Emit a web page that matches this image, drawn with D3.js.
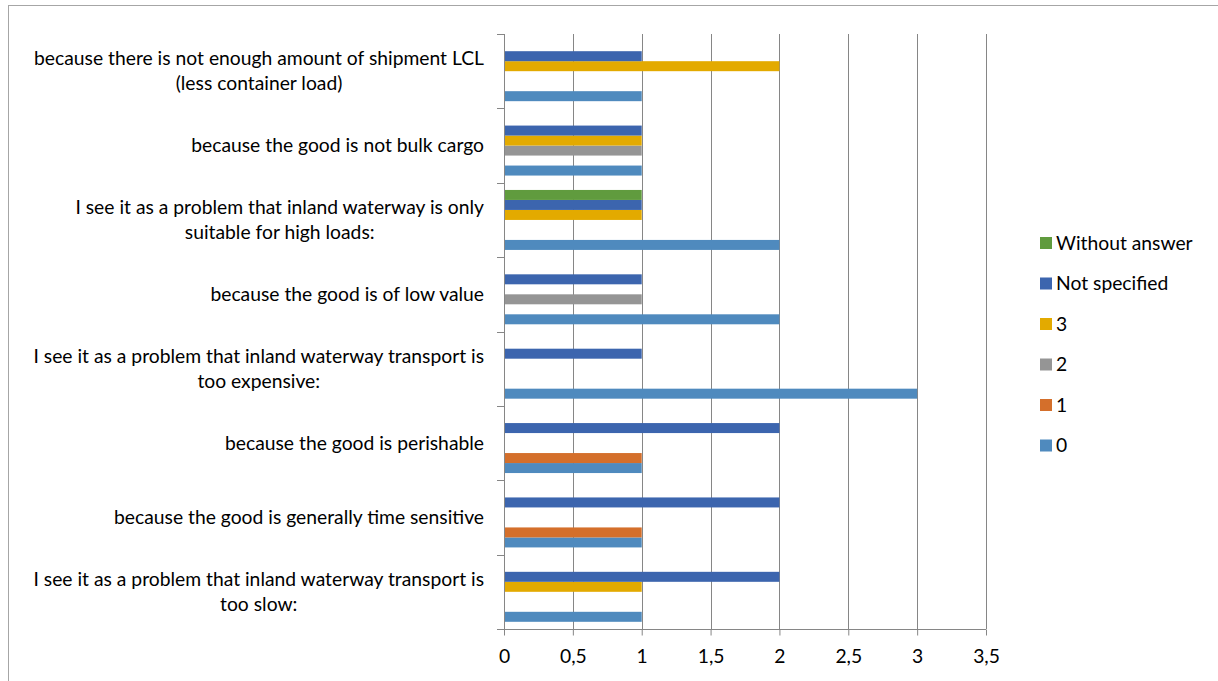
<!DOCTYPE html>
<html>
<head>
<meta charset="utf-8">
<script src="https://cdn.jsdelivr.net/npm/d3@7"></script>
<style>
  body { margin: 0; background: #fff; }
  text { font-family: Lato, "Open Sans", sans-serif; fill: #000; }
</style>
</head>
<body>
<div id="chart"></div>
<script>
"use strict";

// categories, top to bottom as shown
var categories = [
  ["because there is not enough amount of shipment LCL", "(less container load)"],
  ["because the good is not bulk cargo"],
  ["I see it as a problem that inland waterway is only", "suitable for high loads:"],
  ["because the good is of low value"],
  ["I see it as a problem that inland waterway transport is", "too expensive:"],
  ["because the good is perishable"],
  ["because the good is generally time sensitive"],
  ["I see it as a problem that inland waterway transport is", "too slow:"]
];

// series (bottom to top inside each group)
var seriesNames = ["0", "1", "2", "3", "Not specified", "Without answer"];
var seriesColors = ["#4f8abe", "#d46f2b", "#959595", "#e3aa00", "#3c65ae", "#609b3e"];

// values per series, in category order above
var s0 = [1, 1, 2, 2, 3, 1, 1, 1];
var s1 = [0, 0, 0, 0, 0, 1, 1, 0];
var s2 = [0, 1, 0, 1, 0, 0, 0, 0];
var s3 = [2, 1, 1, 0, 0, 0, 0, 1];
var sNS = [1, 1, 1, 1, 1, 2, 2, 2];
var sWA = [0, 0, 1, 0, 0, 0, 0, 0];
var seriesValues = [s0, s1, s2, s3, sNS, sWA];

var xTicks = [0, 0.5, 1, 1.5, 2, 2.5, 3, 3.5];
var xTickLabels = ["0", "0,5", "1", "1,5", "2", "2,5", "3", "3,5"];

var width = 1218, height = 681;
var plot = { left: 504, right: 986, top: 34, bottom: 629 };
var fontSize = "19.3px";

var svg = d3.select("#chart").append("svg")
  .attr("width", width).attr("height", height);

// outer chart border
svg.append("rect")
  .attr("x", 8.5).attr("y", 5.5)
  .attr("width", 1230).attr("height", 700)
  .attr("fill", "none").attr("stroke", "#a6a6a6").attr("stroke-width", 1);

var x = d3.scaleLinear().domain([0, 3.5]).range([plot.left, plot.right]);

var y = d3.scaleBand()
  .domain(d3.range(categories.length))
  .range([plot.top, plot.bottom])
  .padding(0);

// inner band: series 0 at the bottom
var ySeries = d3.scaleBand()
  .domain(d3.range(seriesNames.length).reverse())
  .range([0, y.bandwidth()])
  .paddingInner(0)
  .paddingOuter(0.72);

// gridlines
svg.append("g").selectAll("line")
  .data(xTicks.slice(1))
  .enter().append("line")
  .attr("x1", function (d) { return Math.round(x(d)) + 0.5; })
  .attr("x2", function (d) { return Math.round(x(d)) + 0.5; })
  .attr("y1", plot.top).attr("y2", plot.bottom)
  .attr("stroke", "#868686").attr("stroke-width", 1);

// bars: flatten to {cat, series, value}, skip zeros
var barData = [];
seriesValues.forEach(function (vals, si) {
  vals.forEach(function (v, ci) {
    if (v > 0) barData.push({ cat: ci, series: si, value: v });
  });
});

svg.append("g").selectAll("rect")
  .data(barData)
  .enter().append("rect")
  .attr("x", x(0) + 1)
  .attr("y", function (d) { return y(d.cat) + ySeries(d.series); })
  .attr("width", function (d) { return x(d.value) - x(0) - 1; })
  .attr("height", ySeries.bandwidth())
  .attr("fill", function (d) { return seriesColors[d.series]; });

// x axis
var xAxis = d3.axisBottom(x)
  .tickValues(xTicks)
  .tickFormat(function (d, i) { return xTickLabels[i]; })
  .tickSize(6)
  .tickSizeOuter(0);

var gx = svg.append("g")
  .attr("transform", "translate(0," + (plot.bottom + 0.5) + ")")
  .call(xAxis);
gx.select(".domain").attr("stroke", "#868686").attr("d", "M" + (plot.left - 7) + ",0H" + plot.right);
gx.selectAll(".tick line").attr("stroke", "#868686");
gx.selectAll(".tick text")
  .attr("y", 33)
  .attr("dy", "0")
  .style("font-family", "Lato, 'Open Sans', sans-serif")
  .style("font-size", fontSize)
  .attr("fill", "#000");

// y axis line + ticks at category boundaries
var gy = svg.append("g");
gy.append("line")
  .attr("x1", plot.left + 0.5).attr("x2", plot.left + 0.5)
  .attr("y1", plot.top).attr("y2", plot.bottom)
  .attr("stroke", "#868686");
gy.selectAll(".yt")
  .data(d3.range(categories.length + 1))
  .enter().append("line")
  .attr("class", "yt")
  .attr("x1", plot.left - 7).attr("x2", plot.left)
  .attr("y1", function (i) { return Math.round(plot.top + i * y.step()) + 0.5; })
  .attr("y2", function (i) { return Math.round(plot.top + i * y.step()) + 0.5; })
  .attr("stroke", "#868686");

// category labels: block right aligned, lines centred within the block
var lineH = 25;
var labelRight = 484;
var labels = svg.append("g").selectAll("g")
  .data(categories)
  .enter().append("g")
  .attr("transform", function (d, i) { return "translate(0," + (y(i) + y.bandwidth() / 2) + ")"; });

labels.each(function (lines) {
  var g = d3.select(this);
  var texts = lines.map(function (ln, k) {
    return g.append("text")
      .attr("text-anchor", "middle")
      .attr("y", (k - (lines.length - 1) / 2) * lineH)
      .attr("dy", "0.35em")
      .style("font-size", fontSize)
      .text(ln);
  });
  var maxW = d3.max(texts, function (t) { return t.node().getComputedTextLength(); });
  texts.forEach(function (t) { t.attr("x", labelRight - maxW / 2); });
});

// legend (top entry = last series)
var legendOrder = d3.range(seriesNames.length).reverse();
var legend = svg.append("g").selectAll("g")
  .data(legendOrder)
  .enter().append("g")
  .attr("transform", function (si, k) { return "translate(1040," + (243 + k * 40.5) + ")"; });

legend.append("rect")
  .attr("x", 0).attr("y", -6)
  .attr("width", 12).attr("height", 12)
  .attr("fill", function (si) { return seriesColors[si]; });

legend.append("text")
  .attr("x", 16).attr("dy", "0.35em")
  .style("font-size", fontSize)
  .text(function (si) { return seriesNames[si]; });
</script>
</body>
</html>
